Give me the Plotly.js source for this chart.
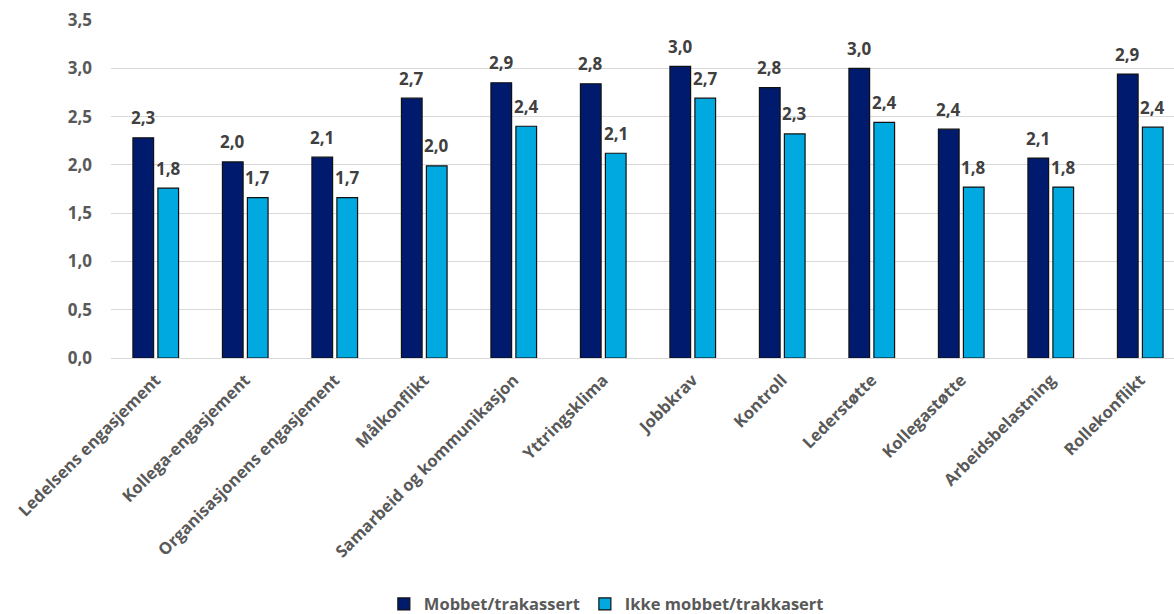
<!DOCTYPE html>
<html>
<head>
<meta charset="utf-8">
<script src="https://cdn.plot.ly/plotly-3.0.1.min.js"></script>
<style>html,body{margin:0;padding:0;overflow:hidden;background:#fff;}</style>
</head>
<body>
<div id="chart" style="width:1174px;height:614px;"></div>
<script>
const categories = ["Ledelsens engasjement","Kollega-engasjement","Organisasjonens engasjement","Målkonflikt","Samarbeid og kommunikasjon","Yttringsklima","Jobbkrav","Kontroll","Lederstøtte","Kollegastøtte","Arbeidsbelastning","Rollekonflikt"];
const seriesNames = ["Mobbet/trakassert","Ikke mobbet/trakkasert"];
const mobbet = [2.28,2.03,2.08,2.69,2.85,2.84,3.02,2.80,3.00,2.37,2.07,2.94];
const ikkeMobbet = [1.76,1.66,1.66,1.99,2.40,2.12,2.69,2.32,2.44,1.77,1.77,2.39];
const yTicks = [0,0.5,1,1.5,2,2.5,3,3.5];

const colors = ["#001B6E","#00A9DF"];
const barWidth = 0.231;
const offsets = [-0.255, 0.024];
const xIdx = categories.map((c,i)=>i);
const fmt = v => v.toFixed(1).replace('.', ',');

const seriesVals = [mobbet, ikkeMobbet];
const traces = seriesVals.map((vals,s)=>({
  type:'bar',
  name: seriesNames[s],
  x: xIdx,
  y: vals,
  width: barWidth,
  offset: offsets[s],
  marker:{color:colors[s], line:{color:'#111111', width:1.2}},
  hoverinfo:'y'
}));

const annotations = [];
seriesVals.forEach((vals,s)=>{
  vals.forEach((v,i)=>{
    annotations.push({
      x: i + offsets[s] + barWidth/2, y: v, xref:'x', yref:'y',
      text: fmt(v), showarrow:false, yanchor:'middle', yshift:20,
      font:{family:'Open Sans', size:17, color:'#404040', weight:'bold'}
    });
  });
});

const layout = {
  width:1174, height:614,
  margin:{l:111, r:0, t:20, b:256},
  paper_bgcolor:'#ffffff', plot_bgcolor:'#ffffff',
  font:{family:'Open Sans', color:'#595959', weight:'bold'},
  separators:',.',
  showlegend:true,
  legend:{orientation:'h', x:0.466, xanchor:'center', yref:'container', y:0.016, yanchor:'middle',
          font:{family:'Open Sans', size:16.5, color:'#595959', weight:'bold'}},
  xaxis:{
    range:[-0.5, 11.377],
    tickmode:'array', tickvals:xIdx, ticktext:categories,
    tickangle:-45, tickfont:{family:'Open Sans', size:16.5, color:'#595959', weight:'bold'},
    ticklabelstandoff:5,
    showgrid:false, showline:true, linecolor:'#d9d9d9', linewidth:1, ticks:'', zeroline:false, fixedrange:true
  },
  yaxis:{
    range:[0,3.5], tickmode:'array', tickvals:yTicks, tickformat:'.1f',
    tickfont:{family:'Open Sans', size:17, color:'#595959', weight:'bold'},
    showgrid:true, gridcolor:'#d9d9d9', gridwidth:1, zeroline:false, showline:false,
    ticklabelstandoff:18, fixedrange:true
  },
  annotations: annotations
};

Plotly.newPlot('chart', traces, layout, {displayModeBar:false, staticPlot:true});
</script>
</body>
</html>
